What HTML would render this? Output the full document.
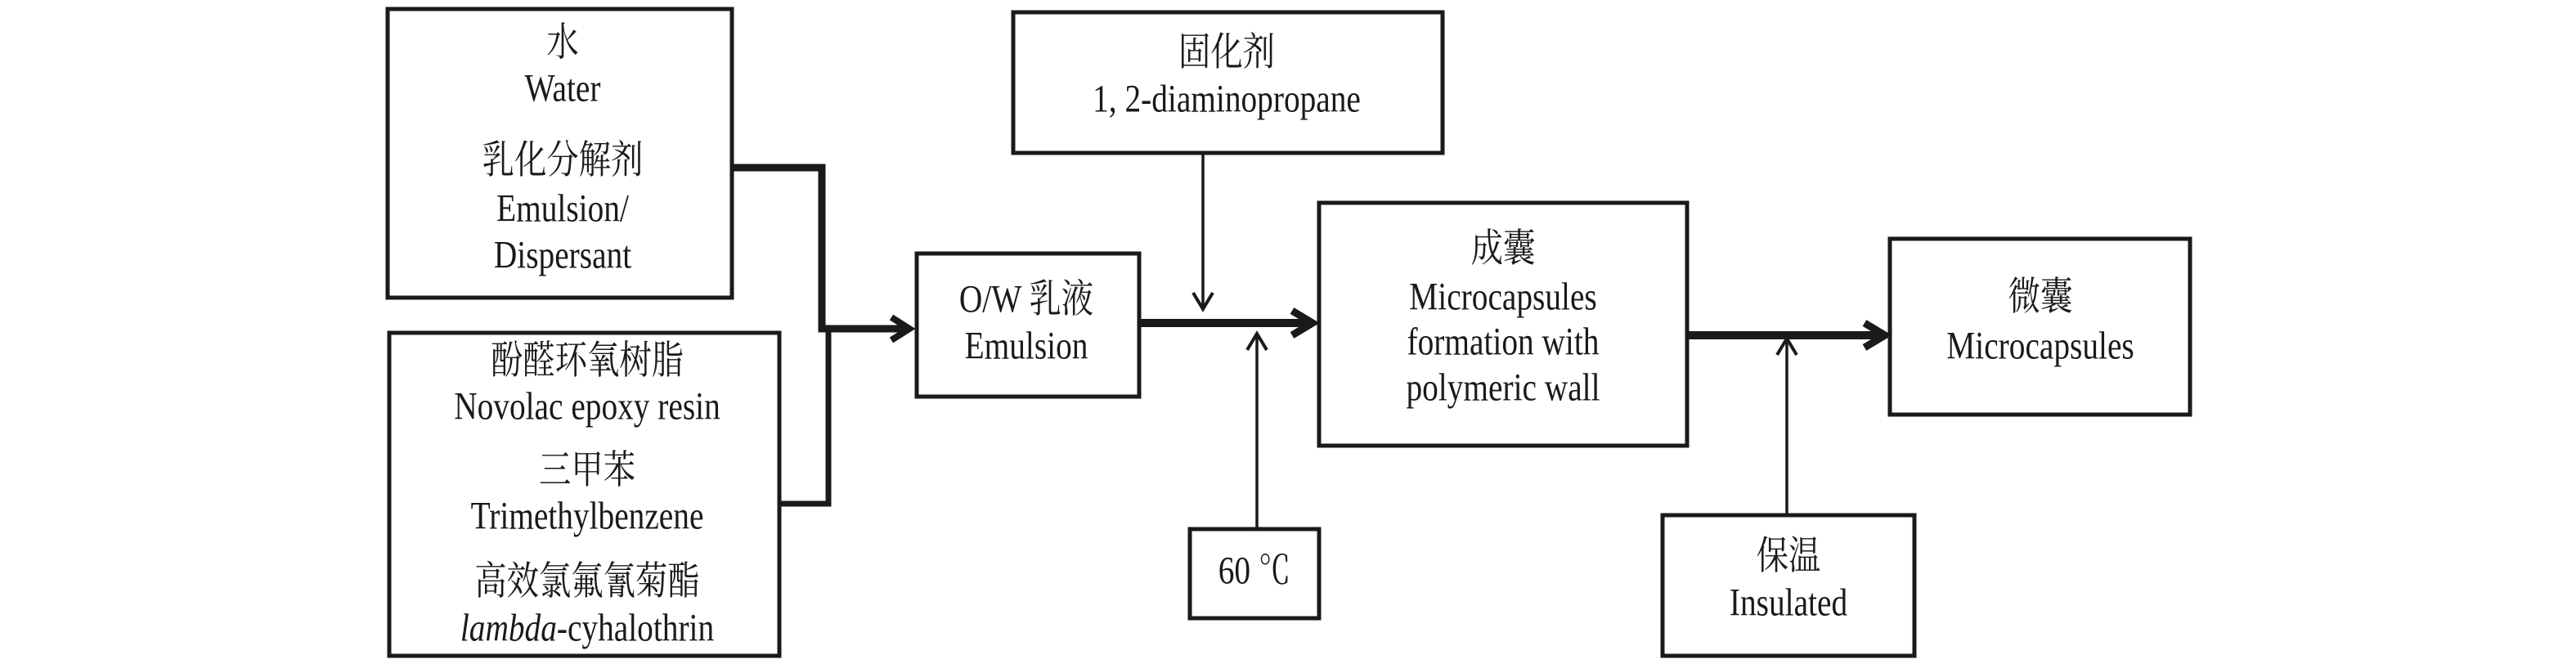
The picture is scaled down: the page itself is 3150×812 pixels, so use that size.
<!DOCTYPE html>
<html><head><meta charset="utf-8"><style>
html,body{margin:0;padding:0;background:#fff;}
svg text{font-family:"Liberation Serif","Noto Serif CJK SC",serif;font-size:48px;fill:#1a1a1a;}
</style></head><body>
<svg width="3150" height="807" viewBox="0 0 3150 807" xmlns="http://www.w3.org/2000/svg">
<g fill="none" stroke="#1a1a1a" stroke-width="5">
<rect x="474" y="11" width="421" height="353"/>
<rect x="476" y="407" width="477" height="395"/>
<rect x="1121" y="310" width="272" height="175"/>
<rect x="1239" y="15" width="525" height="172"/>
<rect x="1455" y="647" width="158" height="109"/>
<rect x="1613" y="248" width="450" height="297"/>
<rect x="2311" y="292" width="367" height="215"/>
<rect x="2033" y="630" width="308" height="172"/>
</g>
<g fill="none" stroke="#1a1a1a" stroke-linecap="butt" stroke-linejoin="miter">
<polyline points="895,205 1005,205 1005,402 1110,402" stroke-width="9"/>
<polyline points="953,616 1013,616 1013,405" stroke-width="7"/>
<polyline points="1090,388 1112,402 1090,416" stroke-width="8"/>
<line x1="1393" y1="395" x2="1600" y2="395" stroke-width="10"/>
<polyline points="1580,380 1605,395 1580,410" stroke-width="9"/>
<line x1="2063" y1="410" x2="2300" y2="410" stroke-width="10"/>
<polyline points="2280,395 2305,410 2280,425" stroke-width="9"/>
<line x1="1471" y1="187" x2="1471" y2="378" stroke-width="3.5"/>
<polyline points="1459,358 1471,378 1483,358" stroke-width="4"/>
<line x1="1537" y1="647" x2="1537" y2="408" stroke-width="3.5"/>
<polyline points="1525,428 1537,408 1549,428" stroke-width="4"/>
<line x1="2185" y1="630" x2="2185" y2="414" stroke-width="3.5"/>
<polyline points="2173,434 2185,414 2197,434" stroke-width="4"/>
</g>
<g text-anchor="middle" dominant-baseline="central">
<g transform="translate(688,0) scale(0.82,1)">
<text x="0" y="52">水</text><text x="0" y="108">Water</text>
<text x="0" y="196">乳化分解剂</text><text x="0" y="255">Emulsion/</text><text x="0" y="312">Dispersant</text>
</g>
<g transform="translate(718,0) scale(0.82,1)">
<text x="0" y="441">酚醛环氧树脂</text><text x="0" y="497">Novolac epoxy resin</text>
<text x="0" y="575">三甲苯</text><text x="0" y="631">Trimethylbenzene</text>
<text x="0" y="711">高效氯氟氰菊酯</text><text x="0" y="768"><tspan font-style="italic">lambda</tspan>-cyhalothrin</text>
</g>
<g transform="translate(1255,0) scale(0.82,1)">
<text x="0" y="366">O/W 乳液</text><text x="0" y="423">Emulsion</text>
</g>
<g transform="translate(1500,0) scale(0.82,1)">
<text x="0" y="64">固化剂</text><text x="0" y="121">1, 2-diaminopropane</text>
</g>
<g transform="translate(1534,0) scale(0.82,1)"><text x="0" y="698">60 ℃</text></g>
<g transform="translate(1838,0) scale(0.82,1)">
<text x="0" y="304">成囊</text><text x="0" y="363">Microcapsules</text>
<text x="0" y="418">formation with</text><text x="0" y="474">polymeric wall</text>
</g>
<g transform="translate(2495,0) scale(0.82,1)">
<text x="0" y="363">微囊</text><text x="0" y="423">Microcapsules</text>
</g>
<g transform="translate(2187,0) scale(0.82,1)">
<text x="0" y="680">保温</text><text x="0" y="737">Insulated</text>
</g>
</g>
</svg>
</body></html>
